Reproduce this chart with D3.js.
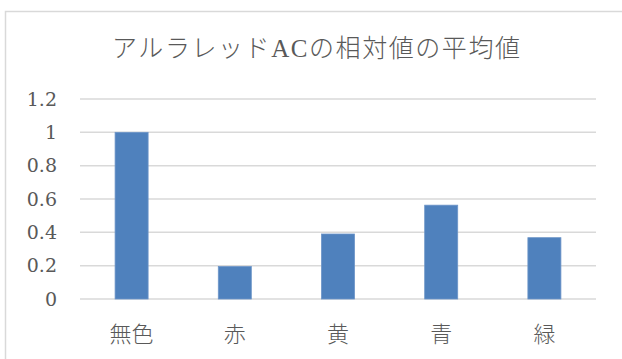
<!DOCTYPE html>
<html>
<head>
<meta charset="utf-8">
<script src="https://cdn.jsdelivr.net/npm/d3@7"></script>
<style>
  html, body { margin: 0; padding: 0; background: #fff; }
  svg { display: block; }
</style>
</head>
<body>
<svg id="chart" width="622" height="359"></svg>
<script>
// Average relative value of Allura Red AC per colour group
const title = "アルラレッドACの相対値の平均値";
const categories = ["無色", "赤", "黄", "青", "緑"];
const values = [1.0, 0.195, 0.39, 0.563, 0.368];
const yTicks = [0, 0.2, 0.4, 0.6, 0.8, 1, 1.2];

const svg = d3.select("#chart");
const plot = { left: 80, right: 596, top: 99, bottom: 299 };
const textColor = "#595959";

// chart frame
svg.append("rect")
  .attr("x", 5.5).attr("y", 11.5)
  .attr("width", 640).attr("height", 380)
  .attr("fill", "#fff")
  .attr("stroke", "#d9d9d9").attr("stroke-width", 1.5);

const x = d3.scaleBand()
  .domain(categories)
  .range([plot.left, plot.right])
  .paddingInner(0.68)
  .paddingOuter(0.34);

const y = d3.scaleLinear()
  .domain([0, 1.2])
  .range([plot.bottom, plot.top]);

// horizontal gridlines
svg.append("g")
  .selectAll("line")
  .data(yTicks)
  .join("line")
  .attr("x1", plot.left).attr("x2", plot.right)
  .attr("y1", d => y(d)).attr("y2", d => y(d))
  .attr("stroke", "#d9d9d9").attr("stroke-width", 1.5);

// value axis labels
const yAxis = d3.axisLeft(y).tickValues(yTicks).tickSize(0).tickPadding(0)
  .tickFormat(d => String(d));
svg.append("g")
  .attr("transform", `translate(57,0)`)
  .call(yAxis)
  .call(g => g.select(".domain").remove())
  .call(g => g.selectAll("text")
    .style("font-family", "\"DejaVu Serif\", serif")
    .style("font-size", "19px")
    .style("fill", textColor));

// bars
svg.append("g")
  .selectAll("rect")
  .data(values)
  .join("rect")
  .attr("x", (d, i) => x(categories[i]))
  .attr("y", d => y(d))
  .attr("width", x.bandwidth())
  .attr("height", d => y(0) - y(d))
  .attr("fill", "#4f81bd")
  .attr("stroke", "#6d95c8").attr("stroke-width", 0.8);

// category axis labels
const xAxis = d3.axisBottom(x).tickSize(0).tickPadding(0);
svg.append("g")
  .attr("transform", `translate(0,${plot.bottom})`)
  .call(xAxis)
  .call(g => g.select(".domain").remove())
  .call(g => g.selectAll("text")
    .attr("dy", null)
    .attr("y", 33)
    .attr("dominant-baseline", "central")
    .style("font-family", "\"Noto Sans CJK JP\", sans-serif")
    .style("font-size", "22px")
    .style("font-weight", 300)
    .style("fill", textColor));

// title
svg.append("text")
  .attr("x", 316).attr("y", 48)
  .attr("text-anchor", "middle")
  .attr("dominant-baseline", "central")
  .attr("textLength", 408)
  .attr("lengthAdjust", "spacing")
  .style("font-family", "\"Liberation Serif\", \"Noto Sans CJK JP\", serif")
  .style("font-size", "25px")
  .style("font-weight", 300)
  .style("fill", textColor)
  .text(title);
</script>
</body>
</html>
